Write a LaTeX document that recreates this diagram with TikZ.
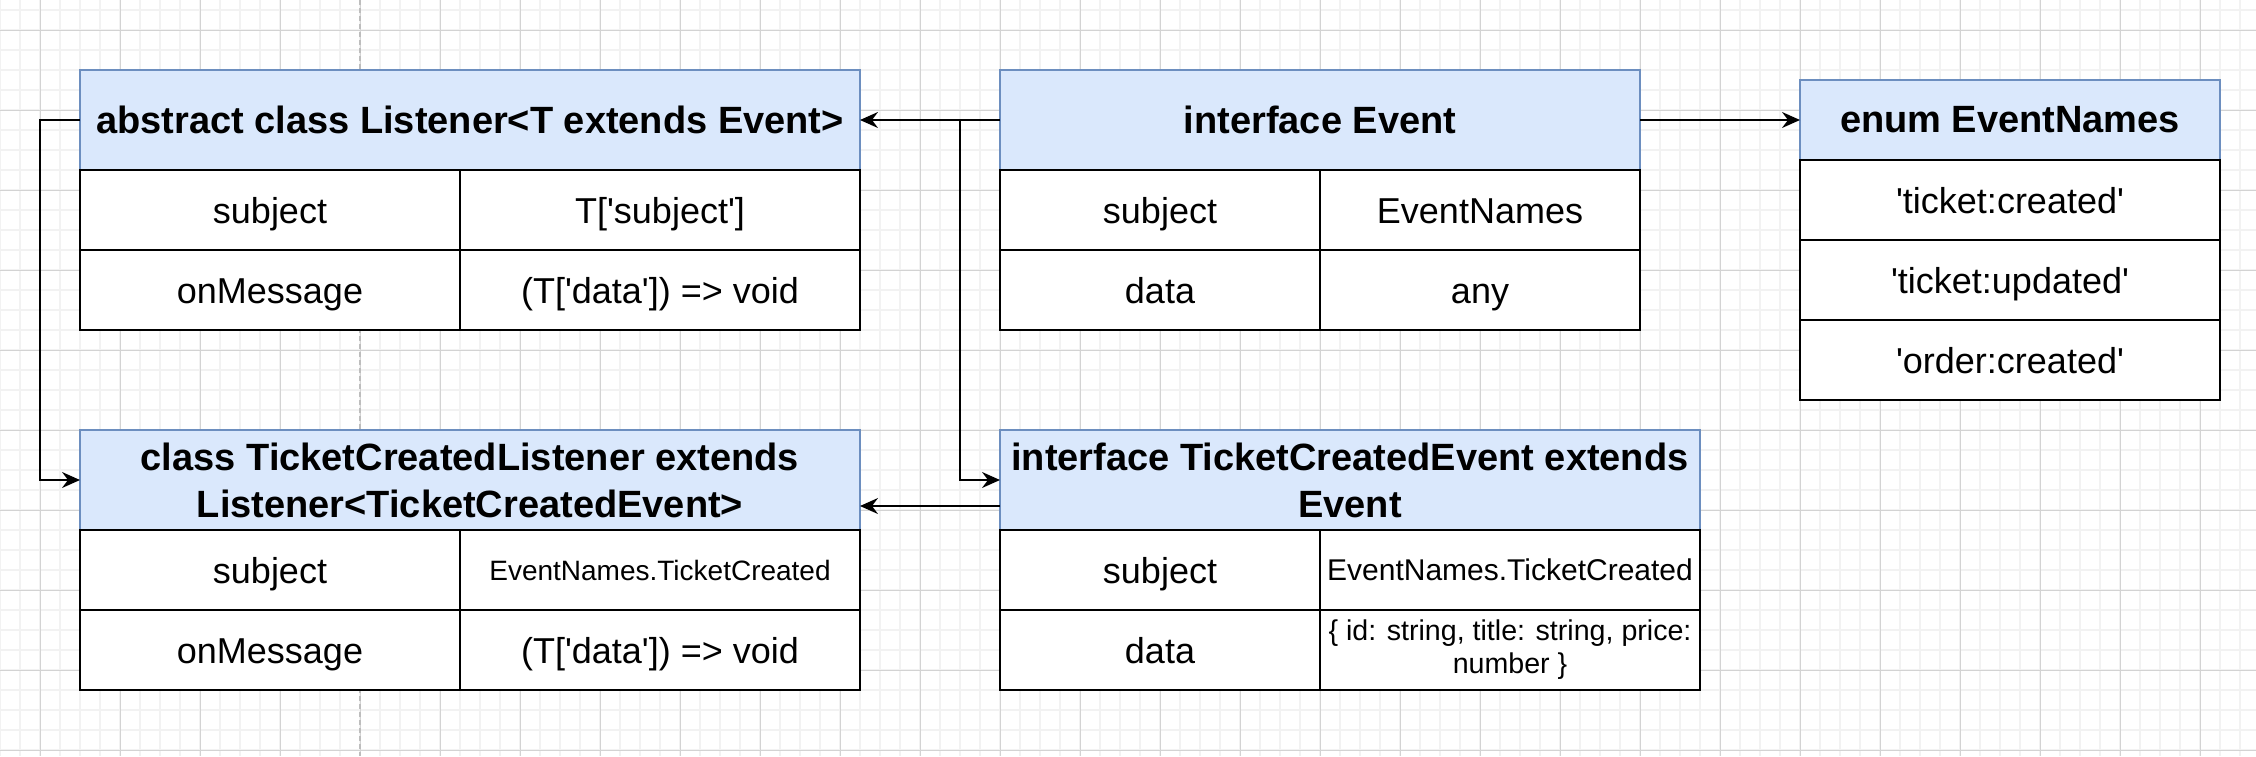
\documentclass[tikz,border=0pt]{standalone}
\usepackage{fontspec}
\setmainfont{Liberation Sans}[Ligatures=TeXOff]
\usetikzlibrary{positioning,arrows.meta}

\definecolor{headfill}{HTML}{DAE8FC}
\definecolor{headline}{HTML}{6C8EBF}
\definecolor{gridlight}{HTML}{F2F2F2}
\definecolor{griddark}{HTML}{D3D3D3}
\definecolor{pagegray}{HTML}{BDBDBD}

\tikzset{
  head/.style={draw=headline, fill=headfill, line width=0.7pt, inner sep=0pt, outer sep=0pt,
    align=center, minimum height=50pt, font=\bfseries\fontsize{19}{23.5}\selectfont},
  cell/.style={draw=black, fill=white, line width=1pt, inner sep=0pt, outer sep=0pt,
    align=center, minimum height=40pt, text height=13pt, text depth=0pt,
    font=\fontsize{18}{21}\selectfont},
  small/.style={font=\fontsize{14}{16}\selectfont, text height=10pt},
  smaller/.style={font=\fontsize{15}{16.5}\selectfont, text height=10.7pt},
  twolines/.style={font=\fontsize{14.3}{16.5}\selectfont, text height=, text depth=},
  conn/.style={line width=1pt, -{Stealth[length=9pt,width=8pt,inset=3pt]}},
  gridminor/.style={gridlight, line width=1pt},
  gridmajor/.style={griddark, line width=0.5pt},
  pagebreak/.style={pagegray, line width=0.8pt, dash pattern=on 2.5pt off 1.5pt}
}

\begin{document}
\begin{tikzpicture}[x=0.5pt,y=-0.5pt]
\useasboundingbox (0,0) rectangle (2256,756);
\fill[white] (0,0) rectangle (2256,756);
% background grid
\foreach \gx in {0,20,...,2240} \draw[gridminor] (\gx,0) -- (\gx,756);
\foreach \gy in {10,30,...,750} \draw[gridminor] (0,\gy) -- (2256,\gy);
\foreach \gx in {40,120,...,2200} \draw[gridmajor] (\gx,0) -- (\gx,756);
\foreach \gy in {30,110,...,750} \draw[gridmajor] (0,\gy) -- (2256,\gy);
\draw[pagebreak] (360,0) -- (360,756);

\coordinate (LI) at (80,70); \coordinate (EV) at (1000,70); \coordinate (EN) at (1800,80);
\coordinate (TCL) at (80,430); \coordinate (TCE) at (1000,430);

% abstract class Listener
\node[head, anchor=north west, minimum width=390pt] (li-head) at (LI) {abstract class Listener<T extends Event>};
\node[cell, minimum width=190pt, below right=0pt of li-head.south west] (li-k1) {subject};
\node[cell, minimum width=200pt, right=0pt of li-k1] (li-v1) {T['subject']};
\node[cell, minimum width=190pt, below=0pt of li-k1] (li-k2) {onMessage};
\node[cell, minimum width=200pt, right=0pt of li-k2] (li-v2) {(T['data']) => void};

% interface Event
\node[head, anchor=north west, minimum width=320pt] (ev-head) at (EV) {interface Event};
\node[cell, minimum width=160pt, below right=0pt of ev-head.south west] (ev-k1) {subject};
\node[cell, minimum width=160pt, right=0pt of ev-k1] (ev-v1) {EventNames};
\node[cell, minimum width=160pt, below=0pt of ev-k1] (ev-k2) {data};
\node[cell, minimum width=160pt, right=0pt of ev-k2] (ev-v2) {any};

% enum EventNames
\node[head, anchor=north west, minimum width=210pt, minimum height=40pt] (en-head) at (EN) {enum EventNames};
\node[cell, minimum width=210pt, below=0pt of en-head] (en-1) {'ticket:created'};
\node[cell, minimum width=210pt, below=0pt of en-1] (en-2) {'ticket:updated'};
\node[cell, minimum width=210pt, below=0pt of en-2] (en-3) {'order:created'};

% class TicketCreatedListener
\node[head, anchor=north west, minimum width=390pt] (tcl-head) at (TCL) {class TicketCreatedListener extends\\Listener<TicketCreatedEvent>};
\node[cell, minimum width=190pt, below right=0pt of tcl-head.south west] (tcl-k1) {subject};
\node[cell, small, minimum width=200pt, right=0pt of tcl-k1] (tcl-v1) {EventNames.TicketCreated};
\node[cell, minimum width=190pt, below=0pt of tcl-k1] (tcl-k2) {onMessage};
\node[cell, minimum width=200pt, right=0pt of tcl-k2] (tcl-v2) {(T['data']) => void};

% interface TicketCreatedEvent
\node[head, anchor=north west, minimum width=350pt] (tce-head) at (TCE) {interface TicketCreatedEvent extends\\Event};
\node[cell, minimum width=160pt, below right=0pt of tce-head.south west] (tce-k1) {subject};
\node[cell, smaller, minimum width=190pt, right=0pt of tce-k1] (tce-v1) {EventNames.TicketCreated};
\node[cell, minimum width=160pt, below=0pt of tce-k1] (tce-k2) {data};
\node[cell, twolines, minimum width=190pt, right=0pt of tce-k2] (tce-v2) {\{ id: string, title: string, price:\\number \}};

% connectors
\coordinate (evsplit) at (960,120);
\coordinate (lisplit) at (40,120);
\draw[conn] (ev-head.west) -- (li-head.east);
\draw[conn] (evsplit) |- (tce-head.west);
\draw[conn] (ev-head.east) -- (en-head.west);
\draw[conn] (li-head.west) -- (lisplit) |- (tcl-head.west);
\draw[conn] ([yshift=-13pt]tce-head.west) -- ([yshift=-13pt]tcl-head.east);
\end{tikzpicture}
\end{document}
